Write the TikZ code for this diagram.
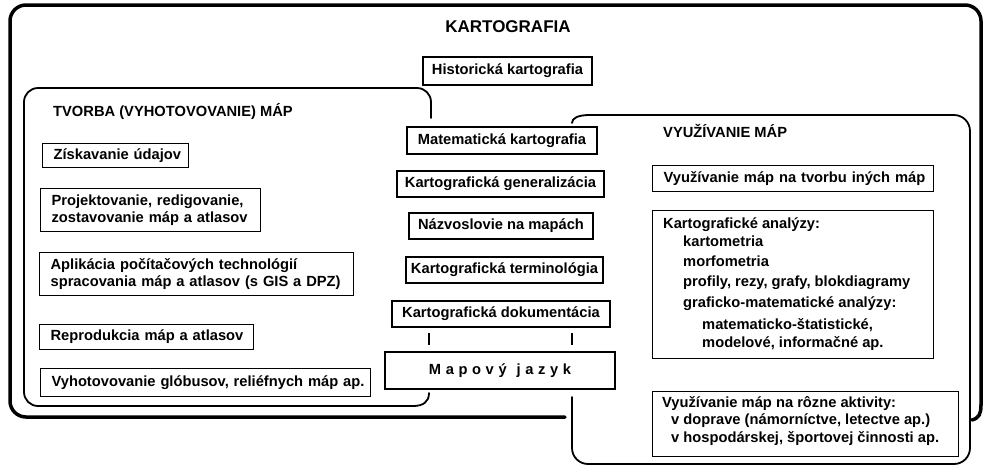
\documentclass[tikz,border=0pt]{standalone}
\usepackage{fontspec}
\setmainfont{Liberation Sans}
\usetikzlibrary{calc}
\newcommand{\oneline}[1]{\mbox{#1}}
\newcommand{\mlsp}{\hspace{4.6pt}}
\begin{document}
\begin{tikzpicture}[x=1pt,y=-1pt,
  every node/.style={font=\bfseries\fontsize{14.7}{16.8}\selectfont, text=black},
  bigtitle/.style={font=\bfseries\fontsize{17}{20}\selectfont, inner sep=0pt},
  sectitle/.style={anchor=west, inner sep=0pt},
  cbox/.style={draw, line width=1.2pt, fill=white, inner sep=0pt},
  lbox/.style={draw, line width=1.2pt, anchor=north west, align=left, inner xsep=11pt, inner ysep=0pt},
  plain/.style={anchor=west, inner sep=0pt},
  outerline/.style={line width=3.5pt, line join=round, line cap=round},
  groupline/.style={line width=1.8pt, line join=round, line cap=round},
  tickline/.style={line width=2pt},
]
\useasboundingbox (0,0) rectangle (991,467);

% outer frame KARTOGRAFIA
\draw[outerline, rounded corners=16pt] (565,417) -- (10,417) -- (10,5) -- (981,5) -- (981,405);
\draw[outerline] (981,405) .. controls (981,414) and (979,418) .. (972,420);

% TVORBA group
\draw[groupline, rounded corners=14pt] (431,118) -- (431,88) -- (24,88) -- (24,406) -- (413,406);
\draw[groupline] (413,406) .. controls (423,406) and (429,402) .. (429,393);

% VYUZIVANIE group
\draw[groupline, rounded corners=16pt] (590,115) -- (970,115) -- (970,464) -- (572,464) -- (572,397);
\draw[groupline] (572,123) .. controls (572,118) and (578,115) .. (590,115);

% titles
\node[bigtitle] (kart) at (508,27) {KARTOGRAFIA};
\node[sectitle] (tvorba) at (53,112) {TVORBA (VYHOTOVOVANIE) MÁP};
\node[sectitle] (vyuz) at (663,131) {VYUŽÍVANIE MÁP};

% center column
\node[cbox, minimum width=169pt, minimum height=28pt] (hist) at (507.5,71) {Historická kartografia};
\node[cbox, minimum width=190pt, minimum height=27pt] (mat) at (502,140.5) {Matematická kartografia};
\node[cbox, minimum width=207pt, minimum height=26pt] (gen) at (500.5,184) {Kartografická generalizácia};
\node[cbox, minimum width=184pt, minimum height=26pt] (naz) at (501,226) {Názvoslovie na mapách};
\node[cbox, minimum width=197pt, minimum height=26pt] (term) at (504.5,270) {Kartografická terminológia};
\node[cbox, minimum width=218pt, minimum height=26pt] (dok) at (501,314) {Kartografická dokumentácia};
\node[cbox, line width=2pt, minimum width=230pt, minimum height=37pt] (mapa) at (500,370.5)
  {M\mlsp a\mlsp p\mlsp o\mlsp v\mlsp ý\hspace{10pt}j\mlsp a\mlsp z\mlsp y\mlsp k};

\coordinate (tl) at (429,0);
\coordinate (tr) at (572,0);
\draw[tickline] ([yshift=-5pt]dok.south -| tl) -- ([yshift=6pt]mapa.north -| tl);
\draw[tickline] ([yshift=-5pt]dok.south -| tr) -- ([yshift=6pt]mapa.north -| tr);

% left column
\node[lbox, text width=124pt, minimum height=24pt] (zisk) at (42,143) {\oneline{Získavanie údajov}};
\node[lbox, text width=198pt, minimum height=43pt] (proj) at (40,188)
  {\oneline{Projektovanie, redigovanie,}\\\oneline{zostavovanie máp a atlasov}};
\node[lbox, text width=292pt, minimum height=43pt] (apl) at (39,252)
  {\oneline{Aplikácia počítačových technológií}\\\oneline{spracovania máp a atlasov (s GIS a DPZ)}};
\node[lbox, text width=192pt, minimum height=25pt] (repro) at (39,324) {\oneline{Reprodukcia máp a atlasov}};
\node[lbox, text width=308pt, minimum height=28pt] (vyhot) at (40,368) {\oneline{Vyhotovovanie glóbusov, reliéfnych máp ap.}};

% right column
\node[lbox, text width=259pt, minimum height=26pt] (ine) at (652,165) {\oneline{Využívanie máp na tvorbu iných máp}};
\node[lbox, text width=259pt, minimum height=148pt] (anal) at (652,210) {};
\node[plain] (an1) at (663,225) {Kartografické analýzy:};
\node[plain] (an2) at (683,241) {kartometria};
\node[plain] (an3) at (683,261) {morfometria};
\node[plain] (an4) at (683,283) {profily, rezy, grafy, blokdiagramy};
\node[plain] (an5) at (683,304) {graficko-matematické analýzy:};
\node[plain] (an6) at (702,325) {matematicko-štatistické,};
\node[plain] (an7) at (702,344) {modelové, informačné ap.};

\node[lbox, text width=284pt, minimum height=65pt] (akt) at (652,391) {};
\node[plain] (ak1) at (662,404) {Využívanie máp na rôzne aktivity:};
\node[plain] (ak2) at (671,421) {v doprave (námorníctve, letectve ap.)};
\node[plain] (ak3) at (671,439) {v hospodárskej, športovej činnosti ap.};
\end{tikzpicture}
\end{document}
